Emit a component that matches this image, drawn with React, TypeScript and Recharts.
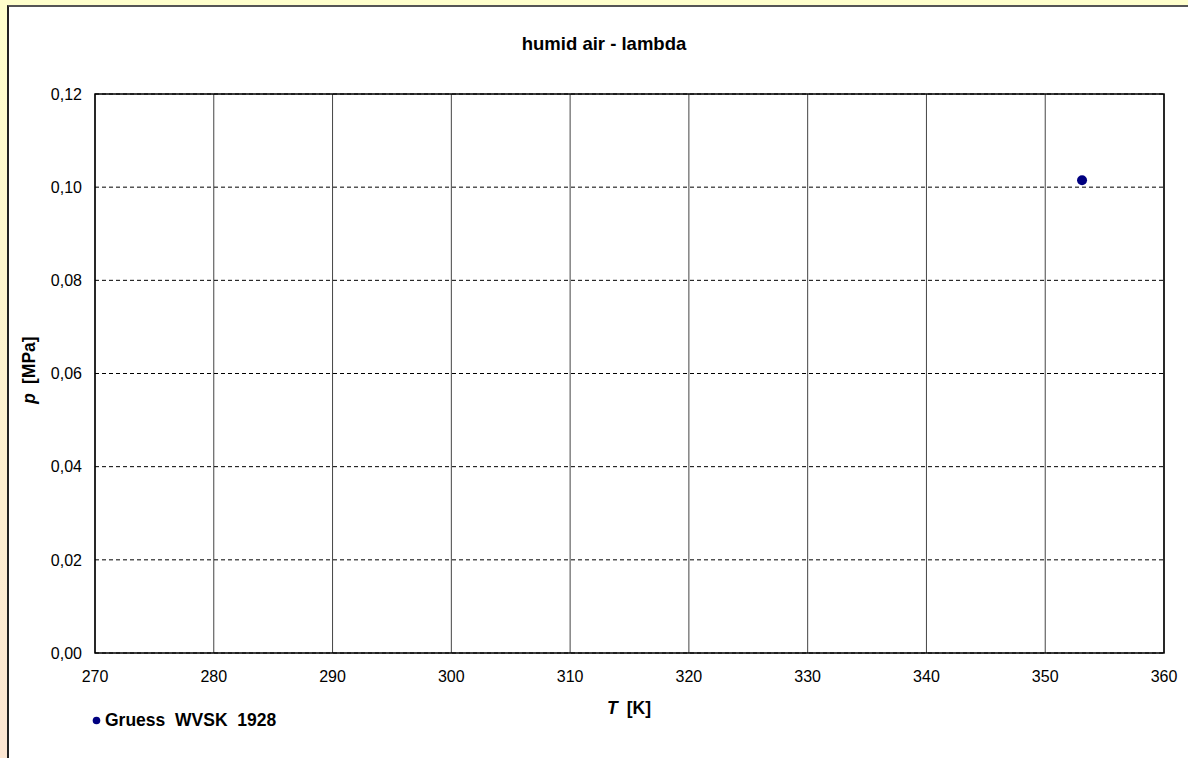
import {
  ScatterChart,
  Scatter,
  XAxis,
  YAxis,
  CartesianGrid,
  ReferenceArea,
  Legend,
  Label,
} from "recharts";

const SERIES_NAME = "Gruess  WVSK  1928";
const T_VALUES = [353.1];
const P_VALUES = [0.1015];
const X_TICKS = [270, 280, 290, 300, 310, 320, 330, 340, 350, 360];
const Y_TICKS = [0, 0.02, 0.04, 0.06, 0.08, 0.1, 0.12];

const points = T_VALUES.map((t, i) => ({ t, p: P_VALUES[i] }));

const FONT = "'Liberation Sans', Arial, sans-serif";

const fmtComma = (v: number) => v.toFixed(2).replace(".", ",");

const Dot = (props: any) => (
  <circle cx={props.cx} cy={props.cy} r={5} fill="#000080" />
);

const LegendBox = () => (
  <div
    style={{
      fontFamily: FONT,
      fontSize: 17.5,
      fontWeight: "bold",
      display: "flex",
      alignItems: "center",
      height: 20,
      lineHeight: "20px",
    }}
  >
    <svg width={9} height={9} style={{ marginRight: 4 }}>
      <circle cx={4.5} cy={4.5} r={3.8} fill="#000080" />
    </svg>
    <span style={{ whiteSpace: "pre" }}>{SERIES_NAME}</span>
  </div>
);

export default function App() {
  return (
    <div
      style={{
        position: "fixed",
        left: 0,
        top: 0,
        width: 1188,
        height: 758,
        overflow: "hidden",
        background: "linear-gradient(to bottom, #FFFFCC, #FCE6D2)",
      }}
    >
      <div
        style={{
          position: "absolute",
          left: 7,
          top: 5,
          width: 1200,
          height: 770,
          background: "#fff",
          borderLeft: "2px solid #222",
          borderTop: "2px solid #555",
        }}
      />
      <div
        style={{
          position: "absolute",
          left: 0,
          top: 0,
          width: 1188,
          height: 758,
        }}
      >
        <div
          style={{
            position: "absolute",
            top: 33,
            left: 7,
            width: 1194,
            textAlign: "center",
            fontFamily: FONT,
            fontSize: 18.5,
            fontWeight: "bold",
            lineHeight: "21px",
          }}
        >
          humid air - lambda
        </div>
        <ScatterChart
          width={1188}
          height={758}
          margin={{ top: 94, right: 24, bottom: 55, left: 0 }}
        >
          <CartesianGrid horizontal={false} stroke="#444" strokeWidth={1} />
          <CartesianGrid
            vertical={false}
            stroke="#000"
            strokeDasharray="4 3"
            strokeWidth={1}
          />
          <XAxis
            type="number"
            dataKey="t"
            domain={[270, 360]}
            ticks={X_TICKS}
            interval={0}
            height={30}
            tickLine={false}
            axisLine={false}
            tickMargin={12}
            tick={{ fill: "#000", fontSize: 16, fontFamily: FONT }}
          >
            <Label
              position="bottom"
              content={() => (
                <text
                  x={629}
                  y={714}
                  textAnchor="middle"
                  fontFamily={FONT}
                  fontSize={17.5}
                  fontWeight="bold"
                  fill="#000"
                >
                  <tspan fontStyle="italic">T</tspan>
                  <tspan dx={9}>[K]</tspan>
                </text>
              )}
            />
          </XAxis>
          <YAxis
            type="number"
            dataKey="p"
            domain={[0, 0.12]}
            ticks={Y_TICKS}
            interval={0}
            tickLine={false}
            axisLine={false}
            tickMargin={7}
            width={95}
            tickFormatter={fmtComma}
            tick={{ fill: "#000", fontSize: 16, fontFamily: FONT }}
          >
            <Label
              position="left"
              content={() => (
                <text
                  x={35}
                  y={370}
                  textAnchor="middle"
                  transform="rotate(-90 35 370)"
                  fontFamily={FONT}
                  fontSize={17.5}
                  fontWeight="bold"
                  fill="#000"
                >
                  <tspan fontStyle="italic">p</tspan>
                  <tspan dx={9}>[MPa]</tspan>
                </text>
              )}
            />
          </YAxis>
          <ReferenceArea
            x1={270}
            x2={360}
            y1={0}
            y2={0.12}
            fill="none"
            stroke="#000"
            strokeWidth={1.5}
            ifOverflow="visible"
          />
          <Legend
            verticalAlign="bottom"
            align="left"
            content={<LegendBox />}
            wrapperStyle={{ left: 92, top: 710, bottom: "auto", width: 320 }}
          />
          <Scatter
            name={SERIES_NAME}
            data={points}
            shape={<Dot />}
            isAnimationActive={false}
          />
        </ScatterChart>
      </div>
    </div>
  );
}
